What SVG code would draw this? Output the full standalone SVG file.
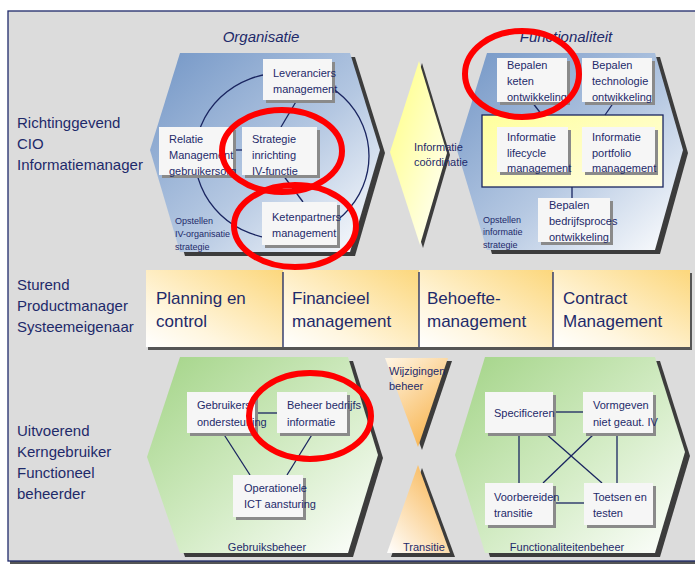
<svg xmlns="http://www.w3.org/2000/svg" width="695" height="565" viewBox="0 0 695 565">
<defs>
<linearGradient id="gBlue" x1="0" y1="0" x2="1" y2="1"><stop offset="0" stop-color="#7396c6"/><stop offset="0.55" stop-color="#b5c8e2"/><stop offset="1" stop-color="#ffffff"/></linearGradient>
<linearGradient id="gGreen" x1="0" y1="0" x2="1" y2="1"><stop offset="0" stop-color="#a3d487"/><stop offset="0.55" stop-color="#d4ecc6"/><stop offset="1" stop-color="#ffffff"/></linearGradient>
<linearGradient id="gDiam" x1="0" y1="0" x2="1" y2="1"><stop offset="0" stop-color="#ffff80"/><stop offset="1" stop-color="#ffffff"/></linearGradient>
<linearGradient id="gOrTop" x1="0" y1="0" x2="0.6" y2="1"><stop offset="0" stop-color="#fff6e6"/><stop offset="1" stop-color="#f8b653"/></linearGradient>
<linearGradient id="gOrBot" x1="0" y1="1" x2="0.8" y2="0"><stop offset="0" stop-color="#ffffff"/><stop offset="1" stop-color="#f8b653"/></linearGradient>
<linearGradient id="gYel" x1="0" y1="0" x2="1" y2="1"><stop offset="0" stop-color="#ffff9c"/><stop offset="1" stop-color="#fffde6"/></linearGradient>
<linearGradient id="gBand" x1="1" y1="0" x2="0" y2="1"><stop offset="0" stop-color="#fcd77c"/><stop offset="0.7" stop-color="#fff6df"/><stop offset="1" stop-color="#ffffff"/></linearGradient>
<style>
text{font-family:"Liberation Sans",Arial,sans-serif;fill:#1e2a6a}
.lbl{font-size:15px}
.ttl{font-size:15px;font-style:italic}
.t{font-size:11px}
.s{font-size:9px}
.band{font-size:17px}
.box{fill:#f6f6f6}
.bsh{fill:#8a8a8a}
.hsh{fill:#3c3c3c}
.ln{stroke:#1a2560;stroke-width:1.3;fill:none}
.red{fill:none;stroke:#ff0000;stroke-width:6}
</style>
</defs>
<rect x="0" y="0" width="695" height="565" fill="#ffffff"/>
<rect x="10" y="14" width="690" height="550" fill="#555555"/>
<rect x="8" y="11" width="692" height="550" fill="#dcdcdc" stroke="#1f2a6b" stroke-width="1.3"/>

<g id="roles">
<text class="lbl" x="17" y="128">Richtinggevend</text>
<text class="lbl" x="17" y="149">CIO</text>
<text class="lbl" x="17" y="170">Informatiemanager</text>
<text class="lbl" x="17" y="290">Sturend</text>
<text class="lbl" x="17" y="311">Productmanager</text>
<text class="lbl" x="17" y="332">Systeemeigenaar</text>
<text class="lbl" x="17" y="436">Uitvoerend</text>
<text class="lbl" x="17" y="457">Kerngebruiker</text>
<text class="lbl" x="17" y="478">Functioneel</text>
<text class="lbl" x="17" y="499">beheerder</text>
</g>

<g id="organisatie">
<text class="ttl" x="261" y="42" text-anchor="middle">Organisatie</text>
<polygon class="hsh" points="185,57 355,57 385,153 355,256 185,256 155,154"/>
<polygon fill="url(#gBlue)" points="180,53 350,53 380,150 350,252 180,252 150,150"/>
<ellipse class="ln" cx="282" cy="156" rx="87" ry="83"/>
<text class="s" x="175" y="224">Opstellen</text>
<text class="s" x="175" y="237">IV-organisatie</text>
<text class="s" x="175" y="250">strategie</text>
</g>

<g id="functionaliteit">
<text class="ttl" x="566" y="42" text-anchor="middle">Functionaliteit</text>
<polygon class="hsh" points="492,57 660,57 688,153 660,254 492,254 462,153"/>
<polygon fill="url(#gBlue)" points="487,53 655,53 683,150 655,250 487,250 457,150"/>
<text class="s" x="483" y="223">Opstellen</text>
<text class="s" x="483" y="235">informatie</text>
<text class="s" x="483" y="248">strategie</text>
</g>

<g id="informatie-coordinatie">
<polygon class="hsh" points="422,63 450,155 423,248 393,154"/>
<polygon fill="url(#gDiam)" points="419,61 447,153 420,245 390,152"/>
<text class="t" x="414" y="151">Informatie</text>
<text class="t" x="414" y="166">coördinatie</text>
</g>

<g id="gebruiksbeheer">
<polygon class="hsh" points="185,361 353,361 383,458 353,557 185,557 152,460"/>
<polygon fill="url(#gGreen)" points="180,357 348,357 378,455 348,553 180,553 147,457"/>
<text class="t" x="267" y="551" text-anchor="middle">Gebruiksbeheer</text>
</g>

<g id="wijzigingen-transitie">
<polygon class="hsh" points="389,361 452,361 422,450"/>
<polygon fill="url(#gOrTop)" points="385,358 448,358 418,447"/>
<polygon class="hsh" points="422,468 455,557 391,557"/>
<polygon fill="url(#gOrBot)" points="418,465 450,553 387,553"/>
<text class="t" x="389" y="375">Wijzigingen</text>
<text class="t" x="389" y="390">beheer</text>
<text class="t" x="403" y="551">Transitie</text>
</g>

<g id="functionaliteitenbeheer">
<polygon class="hsh" points="490,361 660,361 690,456 660,557 490,557 460,459"/>
<polygon fill="url(#gGreen)" points="485,357 655,357 685,452 655,553 485,553 455,455"/>
<text class="t" x="567" y="551" text-anchor="middle">Functionaliteitenbeheer</text>
</g>

<g id="band">
<rect x="148" y="273" width="544" height="77" fill="#555555"/>
<rect x="146" y="270" width="137" height="77" fill="url(#gBand)"/>
<rect x="283" y="270" width="136" height="77" fill="url(#gBand)"/>
<rect x="419" y="270" width="134" height="77" fill="url(#gBand)"/>
<rect x="553" y="270" width="137" height="77" fill="url(#gBand)"/>
<line class="ln" x1="283" y1="272" x2="283" y2="347"/>
<line class="ln" x1="419" y1="272" x2="419" y2="347"/>
<line class="ln" x1="553" y1="272" x2="553" y2="347"/>
<text class="band" x="156" y="304">Planning en</text>
<text class="band" x="156" y="327">control</text>
<text class="band" x="292" y="304">Financieel</text>
<text class="band" x="292" y="327">management</text>
<text class="band" x="427" y="304">Behoefte-</text>
<text class="band" x="427" y="327">management</text>
<text class="band" x="563" y="304">Contract</text>
<text class="band" x="563" y="327">Management</text>
</g>

<g id="connectors">
<line class="ln" x1="297" y1="100" x2="281" y2="127"/>
<line class="ln" x1="233" y1="150" x2="242" y2="150"/>
<line class="ln" x1="283" y1="175" x2="303" y2="202"/>
<rect x="482" y="115" width="181" height="72" fill="url(#gYel)" stroke="#1a2560" stroke-width="1.3"/>
<line class="ln" x1="532" y1="102" x2="542" y2="115"/>
<line class="ln" x1="614" y1="102" x2="605" y2="115"/>
<line class="ln" x1="572" y1="187" x2="572" y2="198"/>
<line class="ln" x1="255" y1="413" x2="277" y2="413"/>
<line class="ln" x1="223" y1="433" x2="250" y2="475"/>
<line class="ln" x1="313" y1="433" x2="287" y2="475"/>
<line class="ln" x1="553" y1="412" x2="583" y2="412"/>
<line class="ln" x1="553" y1="503" x2="584" y2="503"/>
<line class="ln" x1="519" y1="433" x2="519" y2="483"/>
<line class="ln" x1="617" y1="433" x2="617" y2="483"/>
<line class="ln" x1="545" y1="433" x2="602" y2="483"/>
<line class="ln" x1="595" y1="433" x2="543" y2="483"/>
</g>

<g id="leveranciers">
<rect class="bsh" x="266" y="62" width="69" height="41"/>
<rect class="box" x="263" y="59" width="69" height="41"/>
<text class="t" x="273" y="77">Leveranciers</text>
<text class="t" x="273" y="93">management</text>
</g>
<g id="relatie">
<rect class="bsh" x="162" y="130" width="74" height="48"/>
<rect class="box" x="159" y="127" width="74" height="48"/>
<text class="t" x="169" y="143">Relatie</text>
<text class="t" x="169" y="159">Management</text>
<text class="t" x="169" y="175">gebruikersorg</text>
</g>
<g id="strategie">
<rect class="bsh" x="245" y="130" width="75" height="48"/>
<rect class="box" x="242" y="127" width="75" height="48"/>
<text class="t" x="252" y="143">Strategie</text>
<text class="t" x="252" y="159">inrichting</text>
<text class="t" x="252" y="175">IV-functie</text>
</g>
<g id="ketenpartners">
<rect class="bsh" x="265" y="205" width="75" height="43"/>
<rect class="box" x="262" y="202" width="75" height="43"/>
<text class="t" x="272" y="221">Ketenpartners</text>
<text class="t" x="272" y="237">management</text>
</g>

<g id="bepalen-keten">
<rect class="bsh" x="500" y="61" width="70" height="44"/>
<rect class="box" x="497" y="58" width="70" height="44"/>
<text class="t" x="507" y="69">Bepalen</text>
<text class="t" x="507" y="85">keten</text>
<text class="t" x="507" y="101">ontwikkeling</text>
</g>
<g id="bepalen-technologie">
<rect class="bsh" x="585" y="61" width="70" height="44"/>
<rect class="box" x="582" y="58" width="70" height="44"/>
<text class="t" x="592" y="69">Bepalen</text>
<text class="t" x="592" y="85">technologie</text>
<text class="t" x="592" y="101">ontwikkeling</text>
</g>
<g id="lifecycle">
<rect class="bsh" x="500" y="130" width="71" height="45"/>
<rect class="box" x="497" y="127" width="71" height="45"/>
<text class="t" x="507" y="141">Informatie</text>
<text class="t" x="507" y="157">lifecycle</text>
<text class="t" x="507" y="172">management</text>
</g>
<g id="portfolio">
<rect class="bsh" x="585" y="130" width="73" height="45"/>
<rect class="box" x="582" y="127" width="73" height="45"/>
<text class="t" x="592" y="141">Informatie</text>
<text class="t" x="592" y="157">portfolio</text>
<text class="t" x="592" y="172">management</text>
</g>
<g id="bedrijfsproces">
<rect class="bsh" x="541" y="201" width="72" height="44"/>
<rect class="box" x="538" y="198" width="72" height="44"/>
<text class="t" x="549" y="209">Bepalen</text>
<text class="t" x="549" y="225">bedrijfsproces</text>
<text class="t" x="549" y="241">ontwikkeling</text>
</g>

<g id="gebruikersondersteuning">
<rect class="bsh" x="190" y="395" width="68" height="41"/>
<rect class="box" x="187" y="392" width="68" height="41"/>
<text class="t" x="197" y="409">Gebruikers</text>
<text class="t" x="197" y="426">ondersteuning</text>
</g>
<g id="beheer-bedrijfsinformatie">
<rect class="bsh" x="280" y="395" width="70" height="41"/>
<rect class="box" x="277" y="392" width="70" height="41"/>
<text class="t" x="287" y="409">Beheer bedrijfs</text>
<text class="t" x="287" y="426">informatie</text>
</g>
<g id="operationele">
<rect class="bsh" x="236" y="478" width="70" height="42"/>
<rect class="box" x="233" y="475" width="70" height="42"/>
<text class="t" x="244" y="492">Operationele</text>
<text class="t" x="244" y="508">ICT aansturing</text>
</g>

<g id="specificeren">
<rect class="bsh" x="488" y="395" width="68" height="41"/>
<rect class="box" x="485" y="392" width="68" height="41"/>
<text class="t" x="494" y="417">Specificeren</text>
</g>
<g id="vormgeven">
<rect class="bsh" x="586" y="395" width="70" height="41"/>
<rect class="box" x="583" y="392" width="70" height="41"/>
<text class="t" x="593" y="409">Vormgeven</text>
<text class="t" x="593" y="426">niet geaut. IV</text>
</g>
<g id="voorbereiden">
<rect class="bsh" x="488" y="486" width="68" height="42"/>
<rect class="box" x="485" y="483" width="68" height="42"/>
<text class="t" x="494" y="501">Voorbereiden</text>
<text class="t" x="494" y="517">transitie</text>
</g>
<g id="toetsen">
<rect class="bsh" x="587" y="486" width="69" height="42"/>
<rect class="box" x="584" y="483" width="69" height="42"/>
<text class="t" x="593" y="501">Toetsen en</text>
<text class="t" x="593" y="517">testen</text>
</g>

<g id="highlights">
<ellipse class="red" cx="282" cy="151" rx="60" ry="41"/>
<ellipse class="red" cx="295" cy="226" rx="61" ry="41"/>
<ellipse class="red" cx="522" cy="74" rx="57" ry="43"/>
<ellipse class="red" cx="310" cy="416" rx="61" ry="43"/>
</g>
</svg>
